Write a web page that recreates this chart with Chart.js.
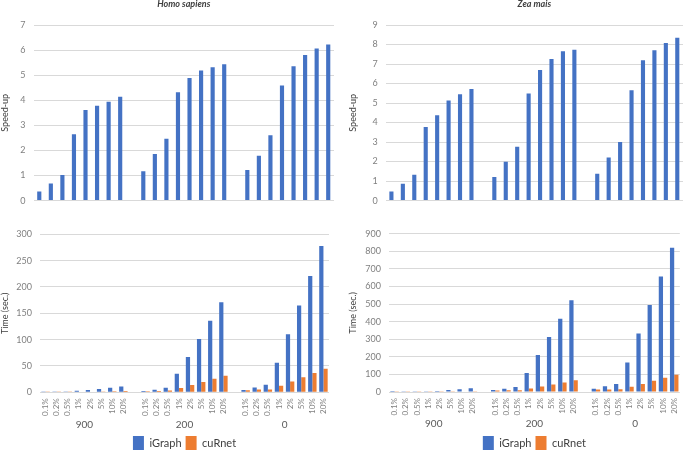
<!DOCTYPE html>
<html>
<head>
<meta charset="utf-8">
<script src="https://cdn.jsdelivr.net/npm/chart.js@4.4.1/dist/chart.umd.min.js"></script>
<style>
html,body{margin:0;padding:0;background:#fff;overflow:hidden;width:685px;height:450px;position:relative;}
canvas{position:absolute;}
</style>
</head>
<body>
<canvas id="tl" width="340" height="214" style="left:0;top:0"></canvas>
<canvas id="tr" width="345" height="214" style="left:340px;top:0"></canvas>
<canvas id="bl" width="340" height="240" style="left:0;top:220px"></canvas>
<canvas id="br" width="350" height="240" style="left:340px;top:220px"></canvas>
<script>
// ---- categories ----
const percents = ['0.1%','0.2%','0.5%','1%','2%','5%','10%','20%'];
const groups = ['900','200','0'];
const seriesNames = ['iGraph','cuRnet'];

// ---- Homo sapiens speed-up ----
const hsSpeedup900 = [0.36,0.68,1.02,2.64,3.61,3.78,3.94,4.14];
const hsSpeedup200 = [1.17,1.86,2.47,4.32,4.89,5.19,5.32,5.44];
const hsSpeedup0   = [1.22,1.79,2.61,4.59,5.36,5.80,6.06,6.22];

// ---- Zea mais speed-up ----
const zmSpeedup900 = [0.46,0.87,1.33,3.77,4.38,5.13,5.45,5.72];
const zmSpeedup200 = [1.21,1.99,2.76,5.49,6.70,7.26,7.65,7.73];
const zmSpeedup0   = [1.38,2.21,3.00,5.66,7.19,7.70,8.08,8.35];

// ---- Homo sapiens time (sec.) ----
const hsIgraph900 = [0.3,0.5,0.8,3,4.5,6.5,8.5,11];
const hsCurnet900 = [0.8,0.7,0.8,1.1,1.2,1.7,2.2,2.7];
const hsIgraph200 = [2.5,5,8.5,35,67,101,136,171];
const hsCurnet200 = [2.1,2.7,3.4,8.1,13.7,19.5,25.5,31.4];
const hsIgraph0   = [4.5,9,14.5,56,110,165,221,278];
const hsCurnet0   = [3.7,5.1,5.5,12.2,20.6,28.4,36.5,44.7];

// ---- Zea mais time (sec.) ----
const zmIgraph900 = [0.4,0.9,1.6,4,6,11,16,21];
const zmCurnet900 = [0.9,1.0,1.2,1.1,1.4,2.1,2.9,3.7];
const zmIgraph200 = [11,19,29,108,210,313,416,521];
const zmCurnet200 = [9,9.5,10.5,19.7,31,43,54,67];
const zmIgraph0   = [19,32,45,168,333,494,657,820];
const zmCurnet0   = [14,14.5,15,30,46,64,81,98];

// ---- helpers ----
const BLUE = '#4472C4', ORANGE = '#ED7D31';
const FONT = 'Lato, "Liberation Sans", sans-serif';
Chart.defaults.font.family = FONT;
Chart.defaults.animation = false;

const labels = groups.flatMap((g, i) => i ? ['', ...percents] : percents);
const withGaps = (...parts) => parts.flatMap((p, i) => i ? [null, ...p] : p);

function yAxis(max, step, title, width, titlePad) {
  return {
    min: 0, max: max,
    ticks: { stepSize: step, padding: 8, color: '#808080', font: { size: 9 } },
    grid: { color: '#d9d9d9', drawTicks: false, lineWidth: 1 },
    border: { display: false },
    title: { display: true, text: title, color: '#404040', font: { size: 9 }, padding: { top: titlePad, bottom: 0 } },
    afterFit(s) { s.width = width; }
  };
}

const groupLabelPlugin = {
  id: 'groupLabels',
  afterDraw(chart, args, opts) {
    if (!opts || !opts.labels) return;
    const { ctx, chartArea } = chart;
    const x = chart.scales.x;
    const n = percents.length + 1;
    ctx.save();
    ctx.font = '10px ' + FONT;
    ctx.fillStyle = '#595959';
    ctx.textAlign = 'center';
    ctx.textBaseline = 'middle';
    opts.labels.forEach((g, i) => {
      const a = x.getPixelForValue(i * n);
      const b = x.getPixelForValue(i * n + percents.length - 1);
      ctx.fillText(g, (a + b) / 2, chartArea.bottom + opts.offset);
    });
    ctx.restore();
  }
};

function speedChart(id, title, data, max, yWidth, titlePad, padRight) {
  return new Chart(document.getElementById(id), {
    type: 'bar',
    data: {
      labels: labels,
      datasets: [{ label: 'Speed-up', data: data, backgroundColor: BLUE,
        categoryPercentage: 0.36, barPercentage: 1.0 }]
    },
    options: {
      responsive: false, devicePixelRatio: 1,
      layout: { padding: { left: 0, right: padRight, top: 0, bottom: 8.6 } },
      plugins: {
        legend: { display: false },
        tooltip: { enabled: false },
        title: { display: true, text: title, fullSize: false, color: '#404040',
          font: { size: 9, style: 'italic', lineHeight: 1 }, padding: { top: 0, bottom: 16 } }
      },
      scales: {
        x: { display: false, grid: { display: false } },
        y: yAxis(max, 1, 'Speed-up', yWidth, titlePad)
      }
    }
  });
}

function timeChart(id, igraph, curnet, max, step, yWidth, titlePad, padTop, padRight, xHeight) {
  return new Chart(document.getElementById(id), {
    type: 'bar',
    data: {
      labels: labels,
      datasets: [
        { label: seriesNames[0], data: igraph, backgroundColor: BLUE, categoryPercentage: 0.76, barPercentage: 1.0 },
        { label: seriesNames[1], data: curnet, backgroundColor: ORANGE, categoryPercentage: 0.76, barPercentage: 1.0 }
      ]
    },
    plugins: [groupLabelPlugin],
    options: {
      responsive: false, devicePixelRatio: 1,
      layout: { padding: { left: 0, right: padRight, top: padTop, bottom: 0 } },
      plugins: {
        tooltip: { enabled: false },
        groupLabels: { labels: groups, offset: 32 },
        legend: {
          display: true, position: 'bottom', fullSize: false,
          labels: { boxWidth: 11, boxHeight: 14, padding: 4, color: '#404040', font: { size: 11 } }
        }
      },
      scales: {
        x: {
          ticks: { autoSkip: false, maxRotation: 90, minRotation: 90, padding: 6, color: '#808080', font: { size: 8 } },
          grid: { display: false, drawTicks: false },
          border: { display: false },
          afterFit(s) { s.height = xHeight; }
        },
        y: yAxis(max, step, 'Time (sec.)', yWidth, titlePad)
      }
    }
  });
}

speedChart('tl', 'Homo sapiens', withGaps(hsSpeedup900, hsSpeedup200, hsSpeedup0), 7, 33.5, 0, 6);
speedChart('tr', 'Zea mais', withGaps(zmSpeedup900, zmSpeedup200, zmSpeedup0), 9, 45.7, 7.3, 2);
timeChart('bl', withGaps(hsIgraph900, hsIgraph200, hsIgraph0), withGaps(hsCurnet900, hsCurnet200, hsCurnet0),
  300, 50, 40, 0, 14.3, 11, 39.7);
timeChart('br', withGaps(zmIgraph900, zmIgraph200, zmIgraph0), withGaps(zmCurnet900, zmCurnet200, zmCurnet0),
  900, 100, 49, 8, 13.7, 10, 40);
</script>
</body>
</html>
